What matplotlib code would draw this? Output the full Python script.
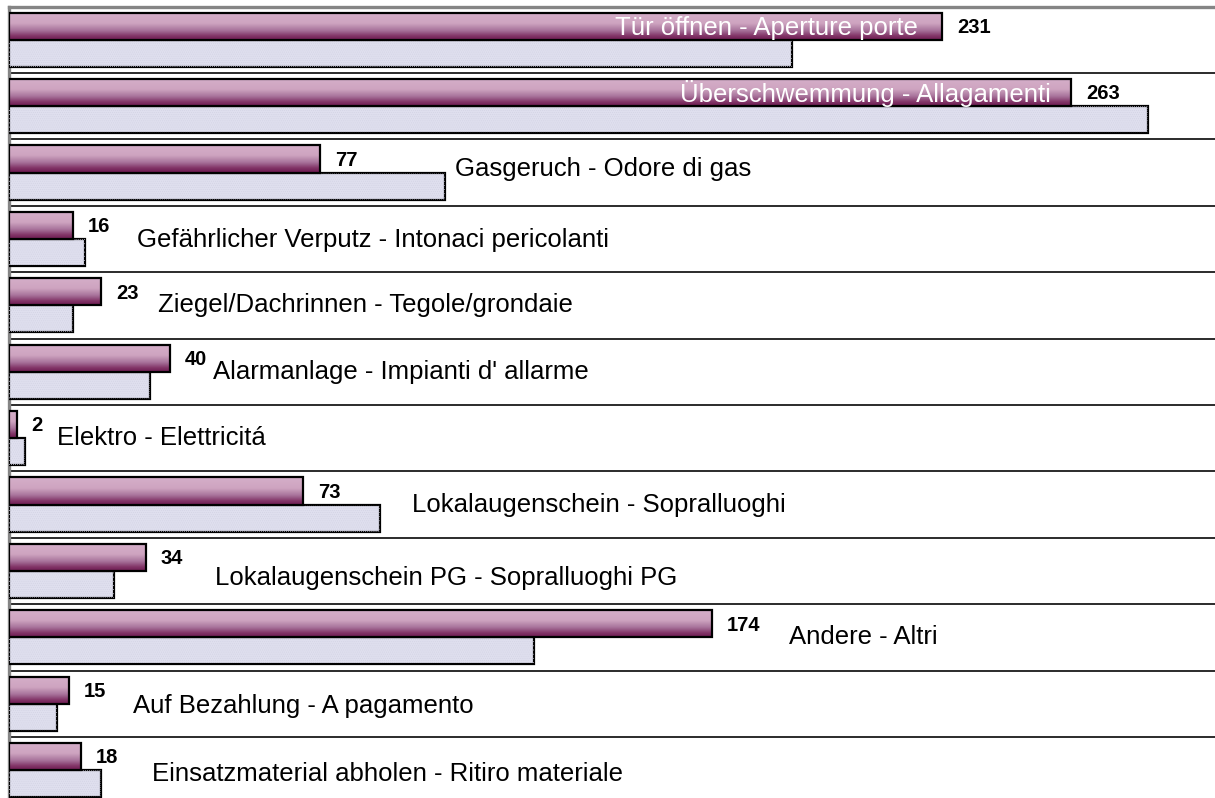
import numpy as np
import matplotlib
matplotlib.use("Agg")
import matplotlib.pyplot as plt
from matplotlib.colors import LinearSegmentedColormap
from matplotlib.patches import Rectangle

# Call types (German - Italian)
categories = [
    "Tür öffnen - Aperture porte",
    "Überschwemmung - Allagamenti",
    "Gasgeruch - Odore di gas",
    "Gefährlicher Verputz - Intonaci pericolanti",
    "Ziegel/Dachrinnen - Tegole/grondaie",
    "Alarmanlage - Impianti d' allarme",
    "Elektro - Elettricitá",
    "Lokalaugenschein - Sopralluoghi",
    "Lokalaugenschein PG - Sopralluoghi PG",
    "Andere - Altri",
    "Auf Bezahlung - A pagamento",
    "Einsatzmaterial abholen - Ritiro materiale",
]
# Current year (labelled) and previous year
current = [231, 263, 77, 16, 23, 40, 2, 73, 34, 174, 15, 18]
previous = [194, 282, 108, 19, 16, 35, 4, 92, 26, 130, 12, 23]

# Where each category caption sits (x in value units, vertical shift in rows)
name_x = [225.0, 258.0, 110.5, 31.7, 36.9, 50.7, 12.1, 99.8, 51.2, 193.1, 30.7, 35.4]
name_dy = [-0.19, -0.19, -0.06, 0.02, 0.0, 0.0, 0.0, 0.0, 0.10, 0.0, 0.03, 0.06]
name_inside = [True, True] + [False] * 10

W, H = 1215, 798
fig = plt.figure(figsize=(W / 100, H / 100), dpi=100)
plt.rcParams["font.family"] = ["Liberation Sans", "DejaVu Sans"]
plt.rcParams["hatch.linewidth"] = 0.35

px_per_unit = 4.041
left_px, top_px, row_px = 8.5, 6.5, 66.4
n = len(categories)
ax_h = n * row_px
ax = fig.add_axes([left_px / W, 1 - (top_px + ax_h) / H,
                   1 - left_px / W, ax_h / H])

bar_h = 0.407
off = bar_h / 2
y = np.arange(n)

grad_cmap = LinearSegmentedColormap.from_list(
    "mauve", [(0.0, "#d5aec9"), (0.4, "#cea4c0"), (0.65, "#a9749c"),
              (0.87, "#803265"), (1.0, "#6e1c52")])
grad = np.linspace(0, 1, 64).reshape(-1, 1)

bars_cur = ax.barh(y - off, current, height=bar_h, color="none",
                   edgecolor="black", linewidth=1.6, zorder=4)
bars_prev = ax.barh(y + off, previous, height=bar_h, color="#dfdfee",
                    edgecolor="black", linewidth=1.6, zorder=3)

# vertical shading inside each current-year bar
for rect in bars_cur:
    x0, yb = rect.get_x(), rect.get_y()
    w, h = rect.get_width(), rect.get_height()
    im = ax.imshow(grad, cmap=grad_cmap, aspect="auto",
                   extent=(x0, x0 + w, yb + h, yb), origin="upper",
                   interpolation="bilinear", zorder=3.5)
    clip = Rectangle((x0, yb), w, h, transform=ax.transData)
    im.set_clip_path(clip)

# fine grain on previous-year bars
for rect in bars_prev:
    ax.add_patch(Rectangle((rect.get_x(), rect.get_y()), rect.get_width(),
                           rect.get_height(), facecolor="none",
                           edgecolor="#d2d2e3", linewidth=0,
                           hatch="........", zorder=3.2))

ax.set_xlim(0, (W - left_px) / px_per_unit)
ax.set_ylim(n - 0.5, -0.5)

# row separators
for k in range(n - 1):
    ax.axhline(k + 0.5, color="#1a1a1a", linewidth=1.3, zorder=2)

# value labels
gap = 15 / px_per_unit
for i, v in enumerate(current):
    ax.text(v + gap, i - off + 0.02, str(v), ha="left", va="center",
            fontsize=14.5, fontweight="bold", color="black", zorder=6)

# category captions
for i, name in enumerate(categories):
    if name_inside[i]:
        ax.text(name_x[i], i - off + 0.02, name, ha="right", va="center",
                fontsize=18.5, color="white", zorder=6)
    else:
        ax.text(name_x[i], i + name_dy[i], name, ha="left", va="center",
                fontsize=18.5, color="black", zorder=6)

for s in ["right", "bottom"]:
    ax.spines[s].set_visible(False)
for s in ["left", "top"]:
    ax.spines[s].set_color("#858585")
    ax.spines[s].set_linewidth(2.4)
ax.set_xticks([])
ax.set_yticks([])

fig.savefig("out.png", dpi=100)
